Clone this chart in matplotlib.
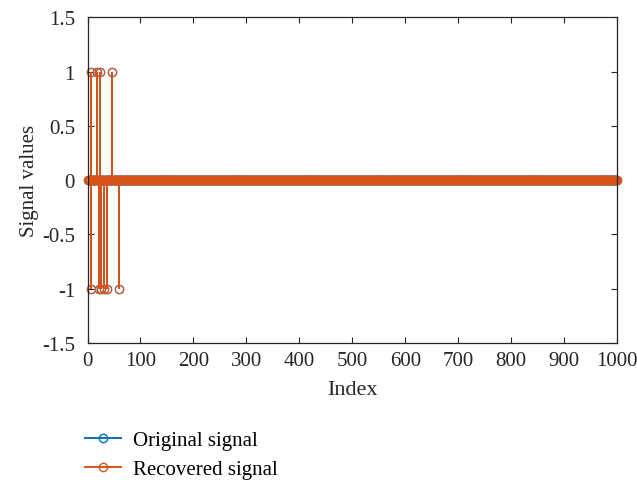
import numpy as np
from matplotlib import pyplot as plt
from matplotlib.legend_handler import HandlerLine2D
from matplotlib.lines import Line2D

plt.rcParams['font.family'] = ['Liberation Serif', 'DejaVu Serif']
plt.rcParams['axes.unicode_minus'] = False

n_samples = 1000
spike_idx = [6, 7, 18, 21, 24, 26, 31, 37, 46, 59]
spike_val = [1, -1, 1, -1, 1, -1, -1, -1, 1, -1]

x_ticks = [0, 100, 200, 300, 400, 500, 600, 700, 800, 900, 1000]
y_ticks = [-1.5, -1, -0.5, 0, 0.5, 1, 1.5]
y_labels = ['-1.5', '-1', '-0.5', '0', '0.5', '1', '1.5']

blue = '#0072BD'
orange = '#D95319'

index = np.arange(1, n_samples + 1)
original = np.zeros(n_samples)
original[np.array(spike_idx) - 1] = spike_val
recovered = original.copy()


class EndMarker(HandlerLine2D):
    # marker on the right end of the legend line, like MATLAB stem legends
    def get_xdata(self, legend, xdescent, ydescent, width, height, fontsize):
        return [-xdescent, -xdescent + width], [-xdescent + width]


fig = plt.figure(figsize=(6.37, 4.85), dpi=100)
ax = fig.add_axes([0.1374, 0.2907, 0.8312, 0.6712])

for sig, col in [(original, blue), (recovered, orange)]:
    markers, stems, base = ax.stem(index, sig, basefmt=' ')
    plt.setp(stems, color=col, linewidth=1.4)
    plt.setp(markers, color=col, marker='o', markersize=6,
             markerfacecolor='none', markeredgewidth=0.8, clip_on=False)

ax.set_xlim(0, 1000)
ax.set_ylim(-1.5, 1.5)
ax.set_xticks(x_ticks)
ax.set_yticks(y_ticks)
ax.set_yticklabels(y_labels)
ax.tick_params(direction='in', top=True, right=True, labelsize=15,
               length=4, width=0.8, colors='#262626')
ax.tick_params(axis='y', pad=9)
ax.tick_params(axis='x', pad=6)
for s in ax.spines.values():
    s.set_color('#262626')
    s.set_linewidth(0.9)
ax.set_xlabel('Index', fontsize=16, color='#262626', labelpad=7)
ax.set_ylabel('Signal values', fontsize=15, color='#262626', labelpad=2)

h1 = Line2D([], [], color=blue, marker='o', markersize=6, markerfacecolor='none', linewidth=1.4)
h2 = Line2D([], [], color=orange, marker='o', markersize=6, markerfacecolor='none', linewidth=1.4)
fig.legend([h1, h2], ['Original signal', 'Recovered signal'],
           handler_map={Line2D: EndMarker()},
           loc='upper left', bbox_to_anchor=(0.121, 0.128), frameon=False,
           fontsize=15, handlelength=1.7, handletextpad=0.6, labelspacing=0.48,
           borderaxespad=0)

fig.savefig('out.png', dpi=100)
